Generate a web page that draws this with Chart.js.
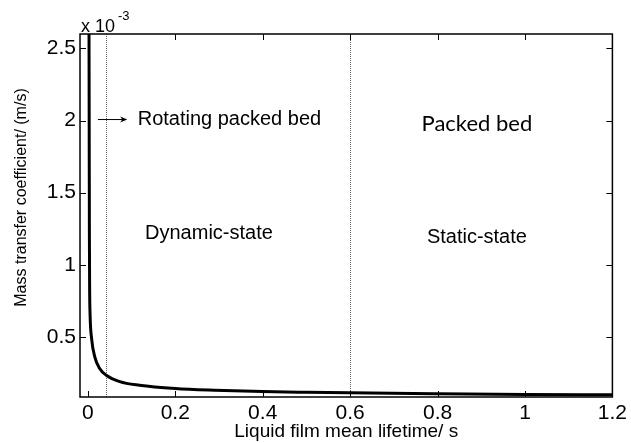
<!DOCTYPE html>
<html lang="en">
<head>
<meta charset="utf-8"/>
<title>Mass transfer coefficient vs liquid film mean lifetime</title>
<script src="https://cdn.jsdelivr.net/npm/chart.js"></script>
<style>
  html, body { margin: 0; padding: 0; background: #fff; }
  #wrap { width: 631px; height: 443px; }
</style>
</head>
<body>
<div id="wrap"><canvas id="chart" width="631" height="443"></canvas></div>
<script>
// curve (x = lifetime in s, y = coefficient in 1e-3 m/s)
const lifetime = [0.0025, 0.003, 0.0035, 0.004, 0.005, 0.0085, 0.016, 0.027, 0.042, 0.073,
                  0.118, 0.2, 0.29, 0.4, 0.5, 0.6, 0.8, 1.0, 1.2];
const coeff = [2.8, 2.0, 1.2, 0.85, 0.66, 0.49, 0.36, 0.28, 0.234, 0.19,
               0.165, 0.142, 0.13, 0.121, 0.116, 0.112, 0.106, 0.101, 0.098];
const xTicks = [0, 0.2, 0.4, 0.6, 0.8, 1, 1.2];
const yTicks = [0.5, 1, 1.5, 2, 2.5];
const dividers = [0.041, 0.6];   // dotted vertical lines

const fontName = '"Liberation Sans", Arial, sans-serif';

// box, inward ticks, dotted lines and the text notes
const decorations = {
  id: 'decorations',
  beforeDatasetsDraw(chart) {
    const {ctx, chartArea: a, scales: {x}} = chart;
    ctx.save();
    ctx.strokeStyle = '#666';
    ctx.lineWidth = 1;
    ctx.setLineDash([1, 1]);
    dividers.forEach(v => {
      const px = Math.round(x.getPixelForValue(v)) + 0.5;
      ctx.beginPath();
      ctx.moveTo(px, a.top);
      ctx.lineTo(px, a.bottom);
      ctx.stroke();
    });
    ctx.restore();
  },
  afterDatasetsDraw(chart) {
    const {ctx, chartArea: a, scales: {x, y}} = chart;
    ctx.save();
    ctx.strokeStyle = '#000';
    ctx.lineWidth = 1.5;
    ctx.strokeRect(a.left, a.top, a.right - a.left, a.bottom - a.top);
    ctx.lineWidth = 1;
    xTicks.forEach(v => {
      const px = Math.round(x.getPixelForValue(v)) + 0.5;
      ctx.beginPath();
      ctx.moveTo(px, a.bottom); ctx.lineTo(px, a.bottom - 6);
      ctx.moveTo(px, a.top); ctx.lineTo(px, a.top + 6);
      ctx.stroke();
    });
    yTicks.forEach(v => {
      const py = Math.round(y.getPixelForValue(v)) + 0.5;
      ctx.beginPath();
      ctx.moveTo(a.left, py); ctx.lineTo(a.left + 6, py);
      ctx.moveTo(a.right, py); ctx.lineTo(a.right - 6, py);
      ctx.stroke();
    });

    ctx.fillStyle = '#000';

    // y axis title, sits a little above the middle of the axis
    ctx.save();
    ctx.translate(22, (a.top + a.bottom) / 2 - 18);
    ctx.rotate(-Math.PI / 2);
    ctx.textAlign = 'center';
    ctx.textBaseline = 'middle';
    ctx.font = '16px ' + fontName;
    ctx.fillText('Mass transfer coefficient/ (m/s)', 0, 0);
    ctx.restore();

    // exponent label
    ctx.textBaseline = 'alphabetic';
    ctx.textAlign = 'left';
    ctx.font = '18px ' + fontName;
    ctx.fillText('x 10', a.left + 1, a.top - 2);
    ctx.font = '13px ' + fontName;
    ctx.fillText('-3', a.left + 38, a.top - 14);

    // arrow
    const ay = y.getPixelForValue(2.0) - 1;
    const ax0 = x.getPixelForValue(0.023), ax1 = x.getPixelForValue(0.09);
    ctx.beginPath();
    ctx.moveTo(ax0, ay); ctx.lineTo(ax1 - 2, ay);
    ctx.stroke();
    ctx.beginPath();
    ctx.moveTo(ax1, ay); ctx.lineTo(ax1 - 7, ay - 3); ctx.lineTo(ax1 - 5, ay); ctx.lineTo(ax1 - 7, ay + 3);
    ctx.closePath();
    ctx.fill();

    ctx.textBaseline = 'middle';
    ctx.font = '20px ' + fontName;
    ctx.fillText('Rotating packed bed', x.getPixelForValue(0.114), ay);
    ctx.textAlign = 'center';
    ctx.fillText('Dynamic-state', x.getPixelForValue(0.277), y.getPixelForValue(1.22));
    ctx.fillText('Static-state', x.getPixelForValue(0.89), y.getPixelForValue(1.19));
    ctx.font = '22px Lato, "Open Sans", sans-serif';
    ctx.fillText('Packed bed', x.getPixelForValue(0.89), y.getPixelForValue(1.98));
    ctx.restore();
  }
};

new Chart(document.getElementById('chart'), {
  type: 'scatter',
  data: {
    datasets: [{
      data: lifetime.map((t, i) => ({x: t, y: coeff[i]})),
      showLine: true,
      borderColor: '#000',
      borderWidth: 3,
      pointRadius: 0,
      cubicInterpolationMode: 'monotone',
      fill: false
    }]
  },
  options: {
    responsive: false,
    animation: false,
    layout: {padding: {top: 34, right: 16, left: 0, bottom: 0}},
    plugins: {legend: {display: false}, tooltip: {enabled: false}},
    scales: {
      x: {
        type: 'linear',
        min: -0.018,
        max: 1.2,
        afterBuildTicks: s => { s.ticks = xTicks.map(v => ({value: v})); },
        afterFit: s => { s.height = 46; },
        border: {display: false},
        grid: {display: false, drawTicks: false},
        ticks: {
          color: '#000',
          padding: 4,
          font: {family: fontName, size: 21},
          callback: v => String(v)
        },
        title: {
          display: true,
          text: 'Liquid film mean lifetime/ s',
          color: '#000',
          font: {family: fontName, size: 19},
          padding: {top: 0, bottom: 0}
        }
      },
      y: {
        type: 'linear',
        min: 0.083,
        max: 2.6,
        afterBuildTicks: s => { s.ticks = yTicks.map(v => ({value: v})); },
        afterFit: s => { s.width = 80; },
        border: {display: false},
        grid: {display: false, drawTicks: false},
        ticks: {
          color: '#000',
          padding: 4,
          font: {family: fontName, size: 21},
          callback: v => String(v)
        },
        title: {display: false}
      }
    }
  },
  plugins: [decorations]
});
</script>
</body>
</html>
